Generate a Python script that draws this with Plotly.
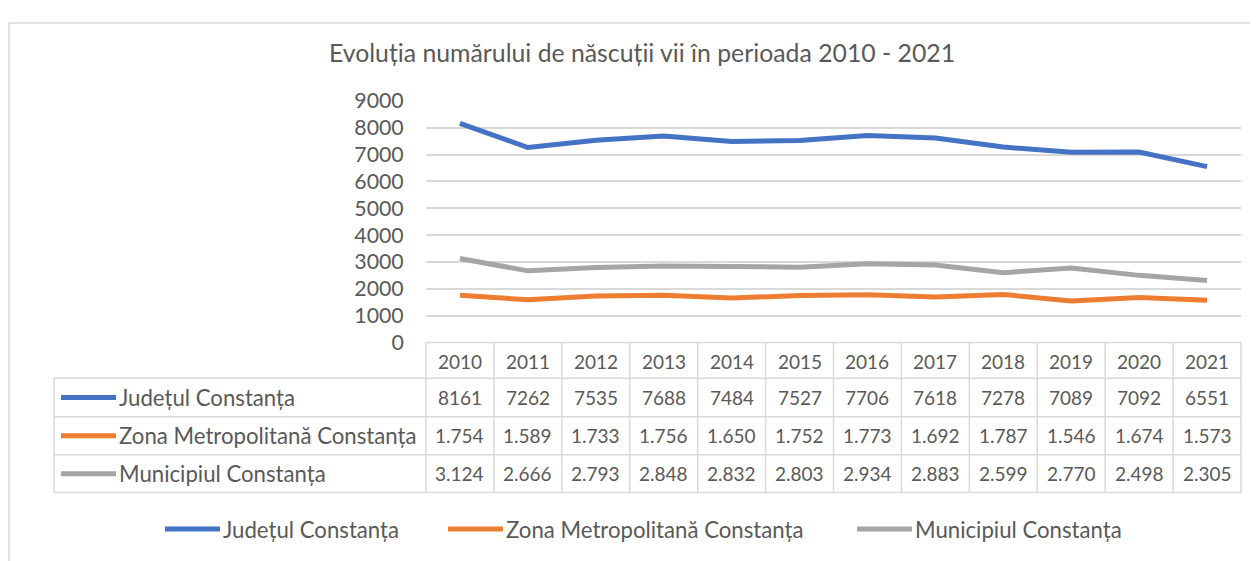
import plotly.graph_objects as go

W, H = 1258, 561

years = [2010, 2011, 2012, 2013, 2014, 2015, 2016, 2017, 2018, 2019, 2020, 2021]
judet = [8161, 7262, 7535, 7688, 7484, 7527, 7706, 7618, 7278, 7089, 7092, 6551]
zona = [1754, 1589, 1733, 1756, 1650, 1752, 1773, 1692, 1787, 1546, 1674, 1573]
municipiu = [3124, 2666, 2793, 2848, 2832, 2803, 2934, 2883, 2599, 2770, 2498, 2305]

series_names = ["Județul Constanța", "Zona Metropolitană Constanța", "Municipiul Constanța"]
series_vals = [judet, zona, municipiu]
series_colors = ["#4472C4", "#ED7D31", "#A5A5A5"]
use_sep = [False, True, True]
y_ticks = [0, 1000, 2000, 3000, 4000, 5000, 6000, 7000, 8000, 9000]
title_text = "Evoluția numărului de născuții vii în perioada 2010 - 2021"

FONT = "Lato"
TXT = "#595959"
GRID = "#D9D9D9"

# mapping from target-picture pixels to paper fractions
OX, OY, SX, SY = 8.0, 21.0, 1258.0, 536.0


def px(x):
    return (x - OX) / SX


def py(y):
    return 1 - (y - OY) / SY


PLOT_L, PLOT_R = 426, 1241
PLOT_T, PLOT_B = 100, 342
TAB_L = 54
ROW_Y = [342, 378, 416.5, 454.5, 492.5]


def fmt(v, sep):
    if sep:
        return f"{v:,}".replace(",", ".")
    return str(v)


fig = go.Figure()
for name, vals, col in zip(series_names, series_vals, series_colors):
    fig.add_trace(go.Scatter(x=years, y=vals, mode="lines", name=name,
                             line=dict(color=col, width=5), showlegend=False,
                             hoverinfo="x+y+name"))

shapes = []
annotations = []

# outer border (top and left visible)
shapes.append(dict(type="line", xref="paper", yref="paper", x0=px(9), x1=1.02,
                   y0=py(22), y1=py(22), line=dict(color=GRID, width=1.5)))
shapes.append(dict(type="line", xref="paper", yref="paper", x0=px(9), x1=px(9),
                   y0=py(22), y1=-0.05, line=dict(color=GRID, width=1.5)))

n = len(years)
cw = (PLOT_R - PLOT_L) / n
line_style = dict(color=GRID, width=1.5)
shapes.append(dict(type="line", xref="paper", yref="paper", x0=px(PLOT_L), x1=px(PLOT_R),
                   y0=py(ROW_Y[0]), y1=py(ROW_Y[0]), line=line_style))
for yy in ROW_Y[1:]:
    shapes.append(dict(type="line", xref="paper", yref="paper", x0=px(TAB_L), x1=px(PLOT_R),
                       y0=py(yy), y1=py(yy), line=line_style))
shapes.append(dict(type="line", xref="paper", yref="paper", x0=px(TAB_L), x1=px(TAB_L),
                   y0=py(ROW_Y[1]), y1=py(ROW_Y[-1]), line=line_style))
for k in range(n + 1):
    xx = PLOT_L + k * cw
    shapes.append(dict(type="line", xref="paper", yref="paper", x0=px(xx), x1=px(xx),
                       y0=py(ROW_Y[0]), y1=py(ROW_Y[-1]), line=line_style))

NUM_SIZE = 19
TEXT_SIZE = 22.2

for k, yr in enumerate(years):
    annotations.append(dict(xref="paper", yref="paper", x=px(PLOT_L + (k + 0.5) * cw),
                            y=py((ROW_Y[0] + ROW_Y[1]) / 2 + 1), text=str(yr), showarrow=False,
                            xanchor="center", yanchor="middle",
                            font=dict(family=FONT, size=NUM_SIZE, color=TXT)))
for r, (name, vals, col, sep) in enumerate(zip(series_names, series_vals, series_colors, use_sep)):
    yc = (ROW_Y[r + 1] + ROW_Y[r + 2]) / 2
    shapes.append(dict(type="line", xref="paper", yref="paper", x0=px(61), x1=px(116),
                       y0=py(yc), y1=py(yc), line=dict(color=col, width=5)))
    annotations.append(dict(xref="paper", yref="paper", x=px(117), y=py(yc), text=name,
                            showarrow=False, xanchor="left", yanchor="middle",
                            font=dict(family=FONT, size=TEXT_SIZE, color=TXT)))
    for k, v in enumerate(vals):
        annotations.append(dict(xref="paper", yref="paper", x=px(PLOT_L + (k + 0.5) * cw),
                                y=py(yc), text=fmt(v, sep), showarrow=False,
                                xanchor="center", yanchor="middle",
                                font=dict(family=FONT, size=NUM_SIZE, color=TXT)))

leg_y = 529
leg_x = [165, 448, 857]
for name, col, x0 in zip(series_names, series_colors, leg_x):
    shapes.append(dict(type="line", xref="paper", yref="paper", x0=px(x0), x1=px(x0 + 55),
                       y0=py(leg_y), y1=py(leg_y), line=dict(color=col, width=5)))
    annotations.append(dict(xref="paper", yref="paper", x=px(x0 + 56), y=py(leg_y), text=name,
                            showarrow=False, xanchor="left", yanchor="middle",
                            font=dict(family=FONT, size=TEXT_SIZE, color=TXT)))

annotations.append(dict(xref="paper", yref="paper", x=px(642), y=py(52), text=title_text,
                        showarrow=False, xanchor="center", yanchor="middle",
                        font=dict(family=FONT, size=24.8, color=TXT)))

fig.update_layout(
    width=W, height=H,
    margin=dict(l=0, r=0, t=0, b=0),
    paper_bgcolor="white", plot_bgcolor="white",
    showlegend=False,
    xaxis=dict(domain=[px(PLOT_L), px(PLOT_R)], range=[years[0] - 0.5, years[-1] + 0.5],
               showticklabels=False, showgrid=False, zeroline=False, fixedrange=True),
    yaxis=dict(domain=[py(PLOT_B), py(PLOT_T)], range=[0, 9000], tickvals=y_ticks,
               showgrid=True, gridcolor=GRID, gridwidth=1.5, zeroline=False,
               ticks="outside", ticklen=0, ticklabelstandoff=17,
               tickfont=dict(family=FONT, size=21.3, color=TXT)),
    shapes=shapes, annotations=annotations,
)

fig.write_html("out.html")
